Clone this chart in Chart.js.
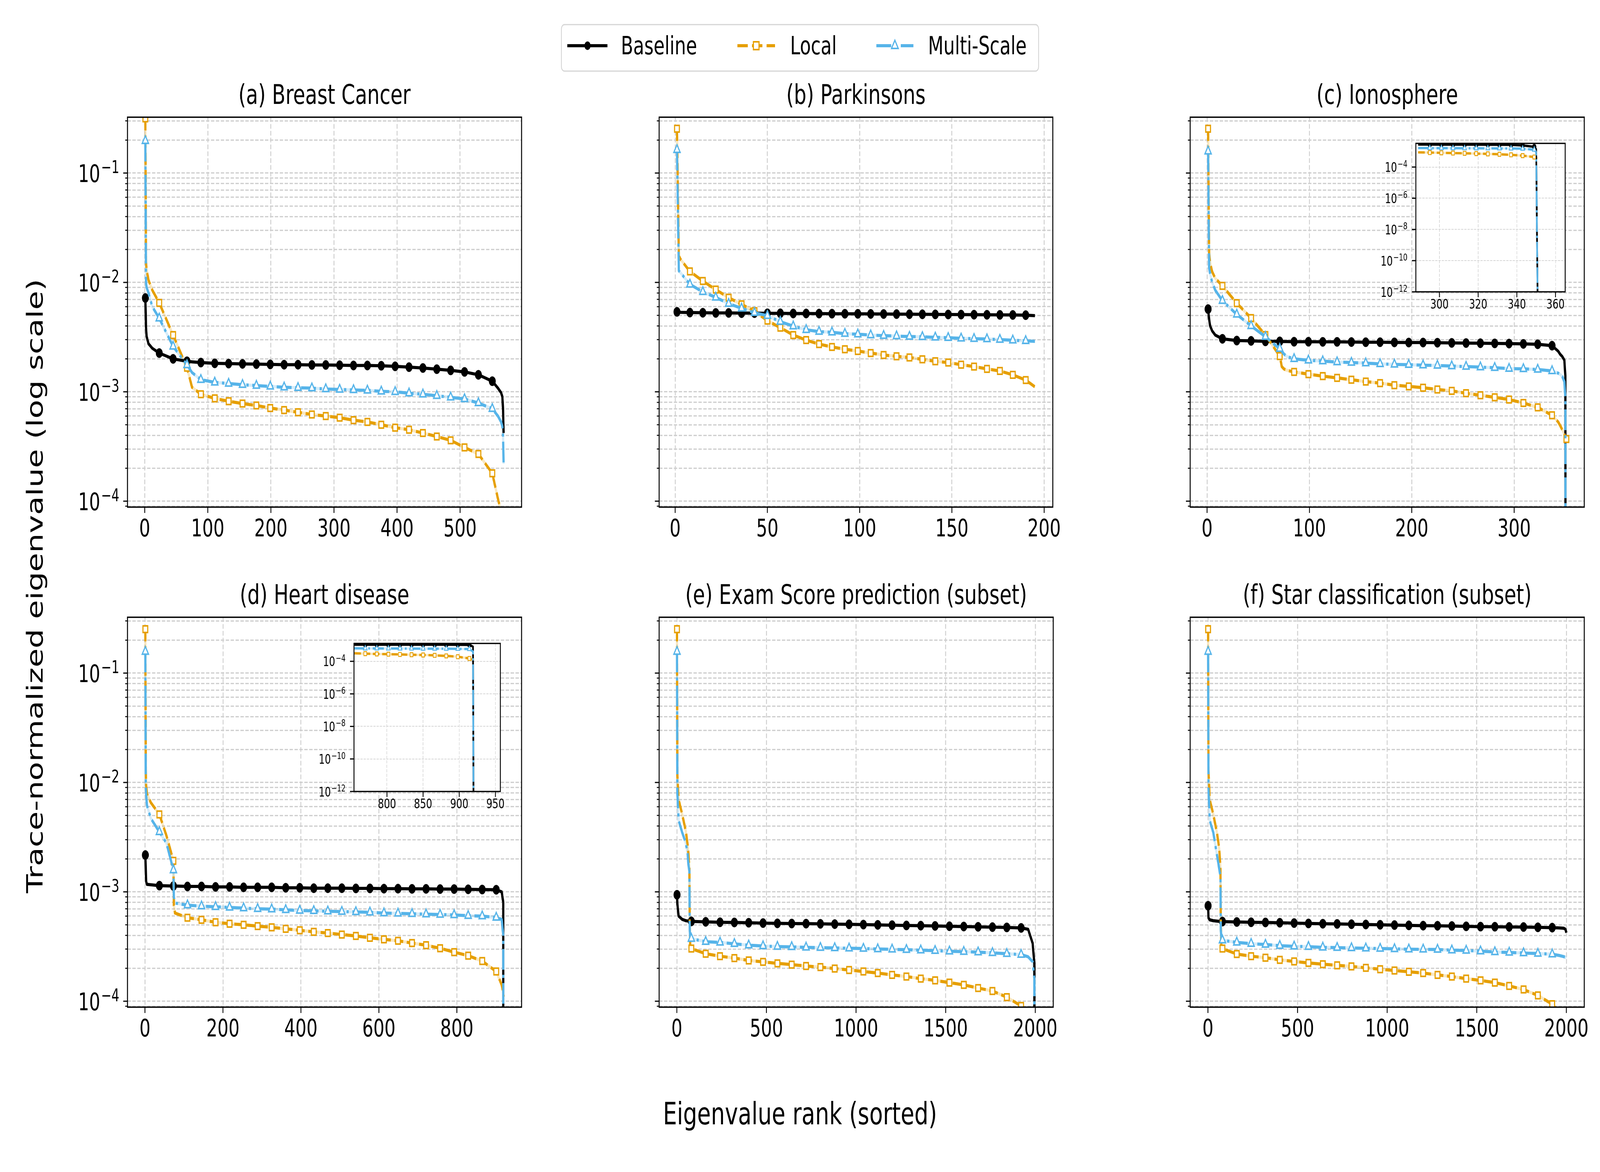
<!DOCTYPE html>
<html>
<head>
<meta charset="utf-8">
<title>Trace-normalized eigenvalue spectra</title>
<script src="https://cdn.jsdelivr.net/npm/chart.js@4.4.1/dist/chart.umd.min.js"></script>
<style>
  html, body { margin: 0; padding: 0; background: #ffffff; overflow: hidden; }
  #stage { position: absolute; left: 0; top: 0; width: 5700px; height: 3000px; transform-origin: 0 0; background: #ffffff; }
  #stage canvas { position: absolute; }
  #overlay { position: absolute; left: 0; top: 0; z-index: 5; pointer-events: none; }
</style>
</head>
<body>
<div id="stage">
<svg id="overlay" width="5700" height="3000" xmlns="http://www.w3.org/2000/svg" font-family="DejaVu Sans">
  <rect x="2000" y="63" width="1700" height="119" rx="11" fill="#ffffff" stroke="#d5d5d5" stroke-width="3"/>
  <line x1="2021" y1="117" x2="2164" y2="117" stroke="#000000" stroke-width="8"/>
  <circle cx="2093" cy="117" r="11" fill="#000000"/>
  <text x="2212" y="139" font-size="64">Baseline</text>
  <line x1="2627" y1="117" x2="2761" y2="117" stroke="#E69F00" stroke-width="8" stroke-dasharray="37 15"/>
  <rect x="2684" y="107" width="20" height="20" fill="#ffffff" stroke="#E69F00" stroke-width="4"/>
  <text x="2815" y="139" font-size="64">Local</text>
  <line x1="3122" y1="117" x2="3254" y2="117" stroke="#56B4E9" stroke-width="8" stroke-dasharray="53 13 8 13"/>
  <polygon points="3188,103 3176,124 3200,124" fill="#ffffff" stroke="#56B4E9" stroke-width="4"/>
  <text x="3306" y="139" font-size="64">Multi-Scale</text>
  <text x="2850" y="2878" font-size="79" text-anchor="middle">Eigenvalue rank (sorted)</text>
  <text transform="translate(152,1500) rotate(-90)" font-size="79" text-anchor="middle">Trace-normalized eigenvalue (log scale)</text>
</svg>
</div>
<script>
// ---- data (x = eigenvalue rank, y = trace-normalized eigenvalue) ----

// (a) Breast Cancer
const ranksA = [1, 2, 3, 6, 12, 23, 45, 67, 75, 89, 111, 133, 155, 177, 199, 221, 243, 265, 287, 309, 331, 353, 375, 397, 419, 441, 463, 485, 507, 529, 551, 560, 565, 567, 568, 569];
const baselineA = [7.2e-3, 3.9e-3, 3.2e-3, 2.75e-3, 2.5e-3, 2.26e-3, 2.0e-3, 1.9e-3, 1.88e-3, 1.85e-3, 1.82e-3, 1.81e-3, 1.80e-3, 1.79e-3, 1.78e-3, 1.77e-3, 1.77e-3, 1.76e-3, 1.76e-3, 1.75e-3, 1.74e-3, 1.74e-3, 1.73e-3, 1.71e-3, 1.68e-3, 1.65e-3, 1.61e-3, 1.57e-3, 1.52e-3, 1.43e-3, 1.25e-3, 1.08e-3, 9.8e-4, 9.0e-4, 7.0e-4, 4.2e-4];
const localA = [0.316, 1.55e-2, 1.3e-2, 1.05e-2, 8.5e-3, 6.5e-3, 3.3e-3, 1.66e-3, 1.1e-3, 9.5e-4, 8.7e-4, 8.2e-4, 7.8e-4, 7.5e-4, 7.1e-4, 6.8e-4, 6.5e-4, 6.2e-4, 6.0e-4, 5.8e-4, 5.5e-4, 5.3e-4, 5.0e-4, 4.7e-4, 4.5e-4, 4.2e-4, 3.9e-4, 3.6e-4, 3.1e-4, 2.7e-4, 1.8e-4, 1.05e-4, 8.0e-5, 7.2e-5, 6.8e-5, 6.2e-5];
const multiA = [0.197, 1.0e-2, 9.0e-3, 8.0e-3, 6.0e-3, 4.7e-3, 2.6e-3, 1.76e-3, 1.5e-3, 1.29e-3, 1.22e-3, 1.19e-3, 1.16e-3, 1.14e-3, 1.12e-3, 1.10e-3, 1.09e-3, 1.08e-3, 1.06e-3, 1.05e-3, 1.04e-3, 1.03e-3, 1.01e-3, 1.0e-3, 9.7e-4, 9.5e-4, 9.2e-4, 8.9e-4, 8.6e-4, 7.9e-4, 7.0e-4, 6.0e-4, 5.3e-4, 4.8e-4, 4.0e-4, 2.2e-4];
const xTicksA = [0, 100, 200, 300, 400, 500];

// (b) Parkinsons
const ranksB = [1, 2, 3, 8, 15, 22, 29, 36, 43, 50, 57, 64, 71, 78, 85, 92, 99, 106, 113, 120, 127, 134, 141, 148, 155, 162, 169, 176, 183, 190, 195];
const baselineB = [5.38e-3, 5.35e-3, 5.33e-3, 5.30e-3, 5.28e-3, 5.26e-3, 5.26e-3, 5.24e-3, 5.24e-3, 5.22e-3, 5.22e-3, 5.20e-3, 5.20e-3, 5.19e-3, 5.18e-3, 5.17e-3, 5.16e-3, 5.15e-3, 5.14e-3, 5.13e-3, 5.12e-3, 5.11e-3, 5.10e-3, 5.09e-3, 5.08e-3, 5.07e-3, 5.06e-3, 5.05e-3, 5.04e-3, 5.02e-3, 4.97e-3];
const localB = [0.254, 1.75e-2, 1.62e-2, 1.26e-2, 1.03e-2, 8.6e-3, 7.25e-3, 6.3e-3, 5.46e-3, 4.47e-3, 3.86e-3, 3.3e-3, 2.97e-3, 2.73e-3, 2.57e-3, 2.45e-3, 2.36e-3, 2.26e-3, 2.17e-3, 2.11e-3, 2.06e-3, 1.98e-3, 1.90e-3, 1.85e-3, 1.77e-3, 1.70e-3, 1.62e-3, 1.55e-3, 1.43e-3, 1.28e-3, 1.11e-3];
const multiB = [0.163, 1.28e-2, 1.22e-2, 9.6e-3, 8.2e-3, 7.3e-3, 6.4e-3, 5.8e-3, 5.28e-3, 4.96e-3, 4.38e-3, 3.98e-3, 3.69e-3, 3.55e-3, 3.5e-3, 3.4e-3, 3.36e-3, 3.3e-3, 3.26e-3, 3.23e-3, 3.2e-3, 3.18e-3, 3.15e-3, 3.12e-3, 3.08e-3, 3.06e-3, 3.04e-3, 3.0e-3, 2.96e-3, 2.92e-3, 2.89e-3];
const xTicksB = [0, 50, 100, 150, 200];

// (c) Ionosphere
const ranksC = [1, 2, 3, 5, 8, 15, 29, 43, 57, 64, 71, 73, 75, 78, 85, 99, 113, 127, 141, 155, 169, 183, 197, 211, 225, 239, 253, 267, 281, 295, 309, 323, 337, 343, 345, 347, 349, 350, 351];
const baselineC = [5.7e-3, 4.6e-3, 4.0e-3, 3.6e-3, 3.3e-3, 3.05e-3, 2.94e-3, 2.92e-3, 2.89e-3, 2.89e-3, 2.89e-3, 2.88e-3, 2.88e-3, 2.88e-3, 2.87e-3, 2.87e-3, 2.86e-3, 2.86e-3, 2.85e-3, 2.84e-3, 2.84e-3, 2.83e-3, 2.82e-3, 2.82e-3, 2.81e-3, 2.80e-3, 2.79e-3, 2.78e-3, 2.77e-3, 2.76e-3, 2.74e-3, 2.72e-3, 2.64e-3, 2.35e-3, 2.2e-3, 2.1e-3, 1.95e-3, 1.4e-3, 1e-16];
const localC = [0.254, 1.86e-2, 1.5e-2, 1.25e-2, 1.09e-2, 9.3e-3, 6.46e-3, 4.72e-3, 3.3e-3, 2.65e-3, 2.12e-3, 1.7e-3, 1.62e-3, 1.57e-3, 1.52e-3, 1.45e-3, 1.39e-3, 1.34e-3, 1.29e-3, 1.24e-3, 1.2e-3, 1.15e-3, 1.12e-3, 1.09e-3, 1.05e-3, 1.02e-3, 9.7e-4, 9.3e-4, 8.9e-4, 8.5e-4, 7.9e-4, 7.2e-4, 6.1e-4, 5.3e-4, 4.9e-4, 4.5e-4, 4.1e-4, 3.9e-4, 3.7e-4];
const multiC = [0.158, 1.35e-2, 1.2e-2, 1.0e-2, 8.5e-3, 6.8e-3, 5.1e-3, 4.0e-3, 3.19e-3, 2.8e-3, 2.48e-3, 2.35e-3, 2.22e-3, 2.1e-3, 2.0e-3, 1.94e-3, 1.91e-3, 1.87e-3, 1.85e-3, 1.83e-3, 1.8e-3, 1.78e-3, 1.77e-3, 1.75e-3, 1.74e-3, 1.72e-3, 1.7e-3, 1.68e-3, 1.66e-3, 1.63e-3, 1.62e-3, 1.6e-3, 1.55e-3, 1.48e-3, 1.44e-3, 1.38e-3, 1.24e-3, 9e-4, 1e-16];
const xTicksC = [0, 100, 200, 300];
// (c) inset: tail of the spectrum
const insetRanksC = [289, 295, 301, 307, 313, 319, 325, 331, 337, 343, 349, 350, 351];
const insetBaselineC = [2.77e-3, 2.76e-3, 2.75e-3, 2.74e-3, 2.73e-3, 2.72e-3, 2.71e-3, 2.69e-3, 2.64e-3, 2.45e-3, 2.0e-3, 1.4e-3, 1e-16];
const insetLocalC = [8.7e-4, 8.5e-4, 8.2e-4, 7.9e-4, 7.6e-4, 7.3e-4, 7.0e-4, 6.6e-4, 6.1e-4, 5.4e-4, 4.4e-4, 4.0e-4, 3.7e-4];
const insetMultiC = [1.66e-3, 1.64e-3, 1.63e-3, 1.62e-3, 1.61e-3, 1.6e-3, 1.59e-3, 1.57e-3, 1.55e-3, 1.5e-3, 1.3e-3, 9e-4, 1e-16];
const insetXTicksC = [300, 320, 340, 360];

// (d) Heart disease
const ranksD = [1, 2, 3, 5, 15, 37, 55, 73, 74, 77, 109, 145, 181, 217, 253, 289, 325, 361, 397, 433, 469, 505, 541, 577, 613, 649, 685, 721, 757, 793, 829, 865, 901, 915, 919, 920];
const baselineD = [2.17e-3, 1.6e-3, 1.25e-3, 1.17e-3, 1.16e-3, 1.14e-3, 1.135e-3, 1.13e-3, 1.13e-3, 1.13e-3, 1.12e-3, 1.12e-3, 1.11e-3, 1.11e-3, 1.10e-3, 1.10e-3, 1.10e-3, 1.09e-3, 1.09e-3, 1.08e-3, 1.08e-3, 1.08e-3, 1.075e-3, 1.075e-3, 1.07e-3, 1.07e-3, 1.065e-3, 1.065e-3, 1.06e-3, 1.06e-3, 1.055e-3, 1.05e-3, 1.045e-3, 1.0e-3, 8e-4, 1e-16];
const localD = [0.252, 1.31e-2, 9.5e-3, 7.9e-3, 6.55e-3, 5.1e-3, 3.27e-3, 1.92e-3, 7.5e-4, 6.4e-4, 5.8e-4, 5.55e-4, 5.27e-4, 5.11e-4, 5.0e-4, 4.86e-4, 4.74e-4, 4.59e-4, 4.45e-4, 4.31e-4, 4.2e-4, 4.07e-4, 3.95e-4, 3.8e-4, 3.68e-4, 3.57e-4, 3.4e-4, 3.25e-4, 3.05e-4, 2.81e-4, 2.61e-4, 2.33e-4, 1.87e-4, 1.41e-4, 1.2e-4, 1.1e-4];
const multiD = [0.157, 9.0e-3, 7.8e-3, 6.2e-3, 4.7e-3, 3.53e-3, 2.8e-3, 1.58e-3, 9.0e-4, 7.9e-4, 7.55e-4, 7.4e-4, 7.3e-4, 7.2e-4, 7.1e-4, 7.0e-4, 6.95e-4, 6.85e-4, 6.75e-4, 6.7e-4, 6.65e-4, 6.6e-4, 6.55e-4, 6.5e-4, 6.4e-4, 6.35e-4, 6.3e-4, 6.25e-4, 6.2e-4, 6.15e-4, 6.05e-4, 6.0e-4, 5.83e-4, 5.6e-4, 4e-4, 1e-16];
const xTicksD = [0, 200, 400, 600, 800];
// (d) inset
const insetRanksD = [755, 770, 786, 802, 818, 834, 850, 866, 882, 898, 914, 919, 920];
const insetBaselineD = [1.06e-3, 1.06e-3, 1.06e-3, 1.058e-3, 1.056e-3, 1.054e-3, 1.052e-3, 1.05e-3, 1.048e-3, 1.045e-3, 1.03e-3, 8e-4, 1e-16];
const insetLocalD = [3.1e-4, 2.97e-4, 2.85e-4, 2.75e-4, 2.65e-4, 2.55e-4, 2.45e-4, 2.33e-4, 2.15e-4, 1.92e-4, 1.5e-4, 1.2e-4, 1.1e-4];
const insetMultiD = [6.3e-4, 6.2e-4, 6.2e-4, 6.15e-4, 6.1e-4, 6.05e-4, 6.0e-4, 6.0e-4, 5.95e-4, 5.85e-4, 5.7e-4, 4e-4, 1e-16];
const insetXTicksD = [800, 850, 900, 950];

// (e) Exam Score prediction (subset)
const ranksE = [1, 3, 10, 30, 50, 60, 65, 70, 72, 75, 81, 161, 241, 321, 401, 481, 561, 641, 721, 801, 881, 961, 1041, 1121, 1201, 1281, 1361, 1441, 1521, 1601, 1681, 1761, 1841, 1921, 1960, 1985, 1995, 2000];
const baselineE = [9.4e-4, 7.7e-4, 6.0e-4, 5.6e-4, 5.45e-4, 5.42e-4, 5.4e-4, 5.4e-4, 5.4e-4, 5.38e-4, 5.37e-4, 5.32e-4, 5.27e-4, 5.25e-4, 5.22e-4, 5.18e-4, 5.15e-4, 5.13e-4, 5.12e-4, 5.1e-4, 5.07e-4, 5.05e-4, 5.02e-4, 4.99e-4, 4.96e-4, 4.93e-4, 4.91e-4, 4.88e-4, 4.85e-4, 4.82e-4, 4.79e-4, 4.76e-4, 4.73e-4, 4.68e-4, 4.55e-4, 3.4e-4, 2.2e-4, 1e-16];
const localE = [0.252, 1.15e-2, 6.97e-3, 5.1e-3, 3.6e-3, 2.71e-3, 2.2e-3, 1.64e-3, 5.0e-4, 3.15e-4, 3.03e-4, 2.72e-4, 2.58e-4, 2.48e-4, 2.36e-4, 2.29e-4, 2.22e-4, 2.16e-4, 2.1e-4, 2.05e-4, 1.99e-4, 1.93e-4, 1.87e-4, 1.81e-4, 1.74e-4, 1.68e-4, 1.61e-4, 1.55e-4, 1.48e-4, 1.41e-4, 1.32e-4, 1.24e-4, 1.09e-4, 9.06e-5, 7.8e-5, 7.0e-5, 6.6e-5, 6.4e-5];
const multiE = [0.157, 7.9e-3, 4.5e-3, 3.49e-3, 2.8e-3, 2.24e-3, 1.75e-3, 1.55e-3, 4.5e-4, 3.85e-4, 3.73e-4, 3.5e-4, 3.45e-4, 3.35e-4, 3.25e-4, 3.2e-4, 3.16e-4, 3.14e-4, 3.11e-4, 3.09e-4, 3.07e-4, 3.05e-4, 3.03e-4, 3.0e-4, 2.98e-4, 2.96e-4, 2.93e-4, 2.9e-4, 2.86e-4, 2.84e-4, 2.81e-4, 2.77e-4, 2.72e-4, 2.67e-4, 2.55e-4, 2.3e-4, 1.6e-4, 1e-16];
const xTicksE = [0, 500, 1000, 1500, 2000];

// (f) Star classification (subset)
const ranksF = [1, 3, 10, 30, 50, 60, 65, 70, 72, 75, 81, 161, 241, 321, 401, 481, 561, 641, 721, 801, 881, 961, 1041, 1121, 1201, 1281, 1361, 1441, 1521, 1601, 1681, 1761, 1841, 1921, 1960, 1985, 1995, 2000];
const baselineF = [7.46e-4, 5.8e-4, 5.55e-4, 5.45e-4, 5.4e-4, 5.38e-4, 5.37e-4, 5.36e-4, 5.36e-4, 5.35e-4, 5.35e-4, 5.3e-4, 5.27e-4, 5.25e-4, 5.22e-4, 5.18e-4, 5.14e-4, 5.11e-4, 5.09e-4, 5.06e-4, 5.03e-4, 5.0e-4, 4.97e-4, 4.94e-4, 4.91e-4, 4.9e-4, 4.87e-4, 4.84e-4, 4.81e-4, 4.8e-4, 4.78e-4, 4.77e-4, 4.74e-4, 4.71e-4, 4.68e-4, 4.65e-4, 4.55e-4, 4.23e-4];
const localF = [0.252, 1.31e-2, 6.97e-3, 5.1e-3, 3.5e-3, 2.7e-3, 2.24e-3, 1.6e-3, 5.0e-4, 3.15e-4, 3.03e-4, 2.7e-4, 2.58e-4, 2.5e-4, 2.39e-4, 2.31e-4, 2.24e-4, 2.18e-4, 2.13e-4, 2.08e-4, 2.02e-4, 1.96e-4, 1.91e-4, 1.86e-4, 1.81e-4, 1.74e-4, 1.68e-4, 1.61e-4, 1.55e-4, 1.48e-4, 1.38e-4, 1.28e-4, 1.13e-4, 9.4e-5, 8.0e-5, 7.2e-5, 6.8e-5, 6.6e-5];
const multiF = [0.157, 9.0e-3, 4.5e-3, 3.49e-3, 2.2e-3, 1.75e-3, 1.55e-3, 1.4e-3, 4.5e-4, 3.8e-4, 3.61e-4, 3.45e-4, 3.36e-4, 3.3e-4, 3.22e-4, 3.18e-4, 3.15e-4, 3.11e-4, 3.09e-4, 3.07e-4, 3.05e-4, 3.03e-4, 3.01e-4, 2.99e-4, 2.98e-4, 2.97e-4, 2.93e-4, 2.91e-4, 2.87e-4, 2.82e-4, 2.79e-4, 2.76e-4, 2.73e-4, 2.69e-4, 2.62e-4, 2.56e-4, 2.52e-4, 2.48e-4];
const xTicksF = [0, 500, 1000, 1500, 2000];

// shared log y axis
const yLimits = [8.83e-5, 0.324];
const yMajorTicks = [1e-4, 1e-3, 1e-2, 1e-1];
const insetYTicks = [1e-12, 1e-10, 1e-8, 1e-6, 1e-4];

// ---- styles ----
const FONT = '"DejaVu Sans", "Liberation Sans", sans-serif';
const DESIGN_W = 5700, DESIGN_H = 3000;

const seriesStyle = {
    multi:    { color: '#56B4E9', band: 'rgba(86,180,233,0.25)', dash: [53, 13, 8, 13], point: 'triangle', r: 13, fill: '#ffffff', bw: 4, order: 1 },
    local:    { color: '#E69F00', band: 'rgba(230,159,0,0.25)', dash: [31, 13], point: 'rect', r: 12, fill: '#ffffff', bw: 4, order: 2 },
    baseline: { color: '#000000', band: 'rgba(0,0,0,0.12)', dash: [], point: 'circle', r: 12, fill: '#000000', bw: 1, order: 3 }
};

const mainLook = {
    lw: 8, dashK: 1, markK: 1,
    gridWidth: 3.3, gridDash: [12, 5.5], gridColor: '#cfcfcf',
    tickFont: 62, supFont: 44, labelGap: 29,
    majorLen: 15, minorLen: 8, tickWidth: 3, minorWidth: 2.5,
    frameWidth: 3.5, xPad: 22, titleFont: 70, titleGap: 34,
    padL: 330, padT: 110, padR: 50, padB: 130
};
const insetLook = {
    lw: 6, dashK: 0.75, markK: 0.6,
    gridWidth: 2, gridDash: [8, 3.5], gridColor: '#d6d6d6',
    tickFont: 34, supFont: 24, labelGap: 30,
    majorLen: 14, minorLen: 0, tickWidth: 3, minorWidth: 0,
    frameWidth: 3.3, xPad: 14, titleFont: 0, titleGap: 0,
    padL: 150, padT: 10, padR: 20, padB: 70
};

const PANEL_W = 1404, PANEL_H = 998;
const colLeft = [454, 2348, 4240];
const rowTop = [300, 1580];

const panels = [
    { title: '(a) Breast Cancer', col: 0, row: 0, n: 569, step: 22, ranks: ranksA, baseline: baselineA, local: localA, multi: multiA, xTicks: xTicksA },
    { title: '(b) Parkinsons', col: 1, row: 0, n: 195, step: 7, ranks: ranksB, baseline: baselineB, local: localB, multi: multiB, xTicks: xTicksB },
    { title: '(c) Ionosphere', col: 2, row: 0, n: 351, step: 14, ranks: ranksC, baseline: baselineC, local: localC, multi: multiC, xTicks: xTicksC },
    { title: '(d) Heart disease', col: 0, row: 1, n: 920, step: 36, ranks: ranksD, baseline: baselineD, local: localD, multi: multiD, xTicks: xTicksD },
    { title: '(e) Exam Score prediction (subset)', col: 1, row: 1, n: 2000, step: 80, ranks: ranksE, baseline: baselineE, local: localE, multi: multiE, xTicks: xTicksE },
    { title: '(f) Star classification (subset)', col: 2, row: 1, n: 2000, step: 80, ranks: ranksF, baseline: baselineF, local: localF, multi: multiF, xTicks: xTicksF }
];

const insets = [
    { left: 5044, top: 367, w: 532, h: 380, xRange: [287.8, 365], yTop: 3.3e-3, mark: [295, 349, 6],
      ranks: insetRanksC, baseline: insetBaselineC, local: insetLocalC, multi: insetMultiC, xTicks: insetXTicksC },
    { left: 1261, top: 1647, w: 531, h: 379, xRange: [754.4, 956.8], yTop: 1.26e-3, mark: [770, 914, 16],
      ranks: insetRanksD, baseline: insetBaselineD, local: insetLocalD, multi: insetMultiD, xTicks: insetXTicksD }
];

// ---- stretch the 5700x3000 design over the viewport we actually get ----
const stage = document.getElementById('stage');
const vw = window.innerWidth || DESIGN_W;
const vh = window.innerHeight || DESIGN_H;
const sx = vw / DESIGN_W, sy = vh / DESIGN_H;
stage.style.transform = 'scale(' + sx + ', ' + sy + ')';
document.body.style.width = vw + 'px';
document.body.style.height = vh + 'px';
const canvasRatio = (window.devicePixelRatio || 1) * Math.max(sx, sy);

// ---- helpers ----
function logTicks(lo, hi) {
    const out = [];
    for (let e = Math.floor(Math.log10(lo)); e <= Math.ceil(Math.log10(hi)); e++) {
        for (let m = 1; m <= 9; m++) {
            const v = m * Math.pow(10, e);
            if (v >= lo && v <= hi) out.push(v);
        }
    }
    return out;
}

function isDecade(v) {
    const l = Math.log10(v);
    return Math.abs(l - Math.round(l)) < 1e-9;
}

function buildDatasets(src, isMark, look) {
    const sets = [];
    for (const key of ['multi', 'local', 'baseline']) {
        const st = seriesStyle[key];
        const vals = src[key];
        // faint band under the line
        sets.push({
            data: src.ranks.map((r, i) => ({ x: r, y: vals[i] })),
            borderColor: st.band,
            borderWidth: look.lw,
            pointRadius: 0,
            pointHoverRadius: 0,
            tension: 0,
            fill: false,
            order: 10 + st.order
        });
        sets.push({
            data: src.ranks.map((r, i) => ({ x: r, y: vals[i] })),
            borderColor: st.color,
            borderWidth: look.lw,
            borderDash: st.dash.map(d => d * look.dashK),
            borderJoinStyle: 'round',
            pointStyle: st.point,
            pointRadius: ctx => (ctx.raw && isMark(ctx.raw.x)) ? st.r * look.markK : 0,
            pointHoverRadius: 0,
            pointBackgroundColor: st.fill,
            pointBorderColor: st.color,
            pointBorderWidth: st.bw * look.markK,
            tension: 0,
            fill: false,
            order: st.order
        });
    }
    return sets;
}

// frame, tick marks, mathtext-like y labels and panel title
const axesDecor = {
    id: 'axesDecor',
    beforeDraw(chart, args, o) {
        if (!o.whiteBg) return;
        const a = chart.chartArea, ctx = chart.ctx;
        ctx.save();
        ctx.fillStyle = '#ffffff';
        ctx.fillRect(a.left, a.top, a.right - a.left, a.bottom - a.top);
        ctx.restore();
    },
    afterDraw(chart, args, o) {
        const { ctx, chartArea: a, scales: { x, y } } = chart;
        const lk = o.look;
        ctx.save();
        ctx.strokeStyle = '#000000';
        ctx.fillStyle = '#000000';
        ctx.setLineDash([]);

        ctx.lineWidth = lk.tickWidth;
        for (const t of x.ticks) {
            const px = x.getPixelForValue(t.value);
            ctx.beginPath();
            ctx.moveTo(px, a.bottom);
            ctx.lineTo(px, a.bottom + lk.majorLen);
            ctx.stroke();
        }
        for (const t of y.ticks) {
            const major = isDecade(t.value);
            const len = major ? lk.majorLen : lk.minorLen;
            if (!len) continue;
            const py = y.getPixelForValue(t.value);
            ctx.lineWidth = major ? lk.tickWidth : lk.minorWidth;
            ctx.beginPath();
            ctx.moveTo(a.left, py);
            ctx.lineTo(a.left - len, py);
            ctx.stroke();
        }

        if (o.yLabels) {
            ctx.textAlign = 'right';
            ctx.textBaseline = 'alphabetic';
            for (const v of o.yLabels) {
                const py = y.getPixelForValue(v);
                const e = Math.round(Math.log10(v));
                const sup = (e < 0 ? '\u2212' : '') + Math.abs(e);
                const R = a.left - lk.labelGap;
                ctx.font = lk.supFont + 'px ' + FONT;
                ctx.fillText(sup, R, py);
                const sw = ctx.measureText(sup).width;
                ctx.font = lk.tickFont + 'px ' + FONT;
                ctx.fillText('10', R - sw - lk.tickFont * 0.05, py + lk.tickFont * 0.37);
            }
        }

        ctx.lineWidth = lk.frameWidth;
        ctx.strokeRect(a.left, a.top, a.right - a.left, a.bottom - a.top);

        if (o.title) {
            ctx.font = lk.titleFont + 'px ' + FONT;
            ctx.textAlign = 'center';
            ctx.textBaseline = 'alphabetic';
            ctx.fillText(o.title, (a.left + a.right) / 2, a.top - lk.titleGap);
        }
        ctx.restore();
    }
};

function makeChart(box, look, datasets, xRange, yRange, xTicks, yGrid, decor) {
    const w = box.w + look.padL + look.padR;
    const h = box.h + look.padT + look.padB;
    const cv = document.createElement('canvas');
    cv.style.width = w + 'px';
    cv.style.height = h + 'px';
    cv.style.left = (box.left - look.padL) + 'px';
    cv.style.top = (box.top - look.padT) + 'px';
    cv.width = w;
    cv.height = h;
    stage.appendChild(cv);

    const grid = {
        color: look.gridColor,
        lineWidth: look.gridWidth,
        drawTicks: false,
        borderDash: look.gridDash
    };

    new Chart(cv.getContext('2d'), {
        type: 'line',
        data: { datasets },
        plugins: [axesDecor],
        options: {
            responsive: false,
            animation: false,
            devicePixelRatio: canvasRatio,
            events: [],
            spanGaps: true,
            layout: { padding: { left: 0, top: look.padT, right: look.padR, bottom: 0 } },
            plugins: {
                legend: { display: false },
                tooltip: { enabled: false },
                axesDecor: decor
            },
            scales: {
                x: {
                    type: 'linear',
                    min: xRange[0],
                    max: xRange[1],
                    bounds: 'data',
                    afterBuildTicks: s => { s.ticks = xTicks.map(v => ({ value: v })); },
                    afterFit: s => { s.height = look.padB; },
                    grid: grid,
                    border: { display: false, dash: look.gridDash },
                    ticks: {
                        autoSkip: false,
                        maxRotation: 0,
                        padding: look.xPad,
                        color: '#000000',
                        font: { family: FONT, size: look.tickFont },
                        callback: v => String(v)
                    }
                },
                y: {
                    type: 'logarithmic',
                    min: yRange[0],
                    max: yRange[1],
                    bounds: 'data',
                    afterBuildTicks: s => { s.ticks = yGrid.map(v => ({ value: v })); },
                    afterFit: s => { s.width = look.padL; },
                    grid: grid,
                    border: { display: false, dash: look.gridDash },
                    ticks: { display: false }
                }
            }
        }
    });
}

// ---- main panels ----
const yGridMain = logTicks(yLimits[0], yLimits[1]);
for (const p of panels) {
    const m = 0.05 * (p.n - 1);
    const box = { left: colLeft[p.col], top: rowTop[p.row], w: PANEL_W, h: PANEL_H };
    const isMark = x => (x - 1) % p.step === 0;
    makeChart(box, mainLook, buildDatasets(p, isMark, mainLook), [1 - m, p.n + m], yLimits, p.xTicks, yGridMain, {
        look: mainLook,
        title: p.title,
        yLabels: p.col === 0 ? yMajorTicks : null,
        whiteBg: false
    });
}

// ---- insets (tail of the spectrum down to numerical zero) ----
for (const s of insets) {
    const [m0, m1, mStep] = s.mark;
    const isMark = x => x >= m0 && x <= m1 && (x - m0) % mStep === 0;
    makeChart(s, insetLook, buildDatasets(s, isMark, insetLook), s.xRange, [1e-12, s.yTop], s.xTicks, insetYTicks, {
        look: insetLook,
        title: null,
        yLabels: insetYTicks,
        whiteBg: true
    });
}
</script>
</body>
</html>
